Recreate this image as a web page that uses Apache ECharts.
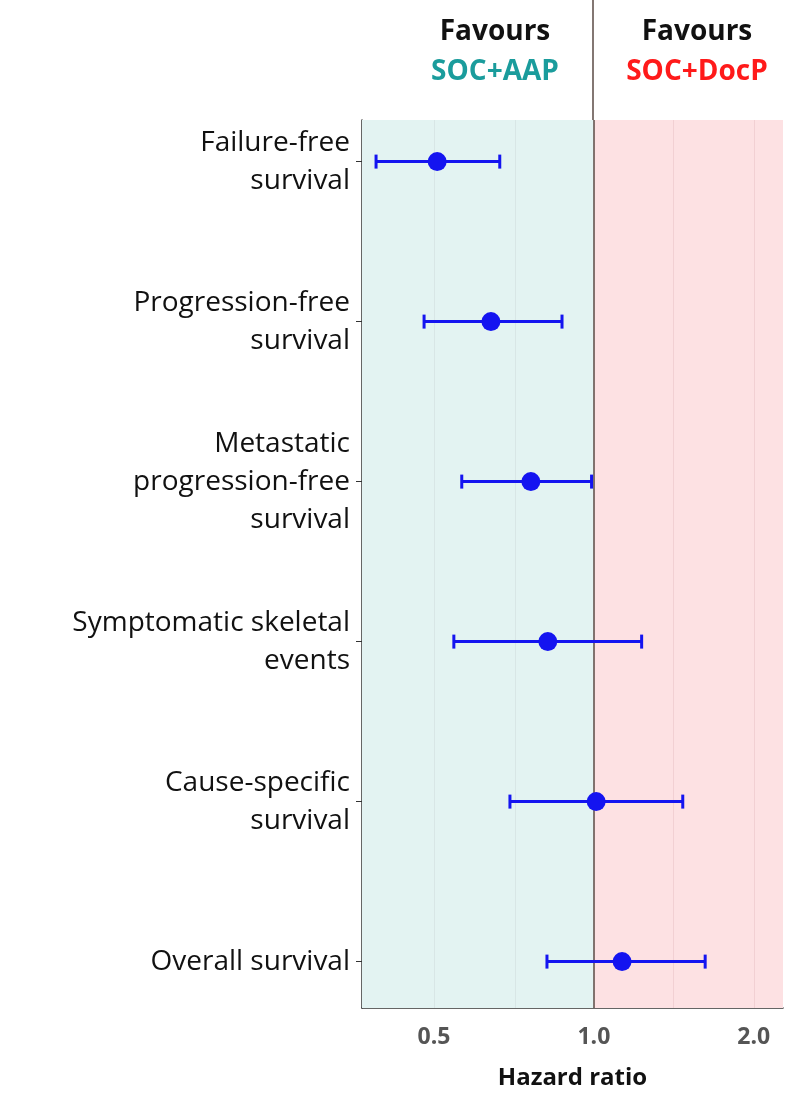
<!DOCTYPE html>
<html><head><meta charset="utf-8">
<script src="https://cdn.jsdelivr.net/npm/echarts@6/dist/echarts.min.js"></script>
<style>html,body{margin:0;background:#fff}#c{width:800px;height:1104px}</style>
</head><body><div id="c"></div>
<script>
var outcomes = ['Failure-free\nsurvival', 'Progression-free\nsurvival', 'Metastatic\nprogression-free\nsurvival', 'Symptomatic skeletal\nevents', 'Cause-specific\nsurvival', 'Overall survival'];
var hr = [0.507, 0.640, 0.761, 0.819, 1.01, 1.13];
var lower = [0.389, 0.479, 0.564, 0.545, 0.695, 0.816];
var upper = [0.665, 0.871, 0.99, 1.23, 1.47, 1.62];
var xTicks = [0.5, 1, 2];
var xMin = 0.366, xMax = 2.27;

var chart = echarts.init(document.getElementById('c'));
var pts = hr.map(function (v, i) { return [v, i]; });
var bars = hr.map(function (v, i) { return [lower[i], upper[i], i]; });
chart.setOption({
  animation: false,
  grid: { left: 362, right: 17, top: 120, bottom: 96 },
  xAxis: {
    type: 'log', logBase: 2, min: xMin, max: xMax,
    name: 'Hazard ratio', nameLocation: 'middle', nameGap: 58,
    nameTextStyle: { fontSize: 24, fontWeight: 'bold', color: '#111', fontFamily: 'Open Sans' },
    axisLine: { show: true, onZero: false, lineStyle: { color: '#333', width: 1.5 } },
    axisTick: { show: false },
    axisLabel: { customValues: xTicks, fontSize: 23, fontWeight: 'bold', color: '#555', margin: 18, fontFamily: 'Open Sans',
      formatter: function (v) { return Number(v).toFixed(1); } },
    splitLine: { show: false }
  },
  yAxis: {
    type: 'value', inverse: true, min: -0.26, max: 5.29,
    axisLine: { show: true, lineStyle: { color: '#333', width: 1.5 } },
    axisTick: { show: true, customValues: [0, 1, 2, 3, 4, 5], length: 6, lineStyle: { color: '#333' } },
    axisLabel: { customValues: [0, 1, 2, 3, 4, 5], fontSize: 28, color: '#111', lineHeight: 38, margin: 12, fontFamily: 'Open Sans',
      formatter: function (v) { return outcomes[Math.round(v)]; } },
    splitLine: { show: false }
  },
  series: [
    {
      type: 'line', data: [], silent: true, z: 0,
      markArea: { silent: true, data: [
        [{ xAxis: xMin, itemStyle: { color: '#e3f3f2' } }, { xAxis: 1 }],
        [{ xAxis: 1, itemStyle: { color: '#fde1e3' } }, { xAxis: xMax }]
      ] },
      markLine: { silent: true, symbol: 'none', label: { show: false }, data: [
        { xAxis: 0.5, lineStyle: { color: '#d8e6e6', width: 1, type: 'solid' } },
        { xAxis: 0.707, lineStyle: { color: '#d8e6e6', width: 1, type: 'solid' } },
        { xAxis: 1.414, lineStyle: { color: '#f2d0d3', width: 1, type: 'solid' } },
        { xAxis: 2, lineStyle: { color: '#f2d0d3', width: 1, type: 'solid' } },
        { xAxis: 1, lineStyle: { color: '#5a4a44', width: 1.5, type: 'solid' } }
      ] }
    },
    {
      type: 'custom', data: bars, z: 5,
      renderItem: function (params, api) {
        var a = api.coord([api.value(0), api.value(2)]);
        var b = api.coord([api.value(1), api.value(2)]);
        var st = { stroke: '#1414f0', lineWidth: 3 };
        return { type: 'group', children: [
          { type: 'line', shape: { x1: a[0], y1: a[1], x2: b[0], y2: b[1] }, style: st },
          { type: 'line', shape: { x1: a[0], y1: a[1] - 7, x2: a[0], y2: a[1] + 7 }, style: st },
          { type: 'line', shape: { x1: b[0], y1: b[1] - 7, x2: b[0], y2: b[1] + 7 }, style: st }
        ] };
      }
    },
    { type: 'scatter', data: pts, symbolSize: 19, z: 6, itemStyle: { color: '#1414f0', opacity: 1 } }
  ],
  graphic: [
    { type: 'line', shape: { x1: 593, y1: 0, x2: 593, y2: 120 }, style: { stroke: '#5a4a44', lineWidth: 1.5 } },
    { type: 'text', x: 495, y: 18, style: { text: 'Favours', font: 'bold 28px "Open Sans"', fill: '#111', textAlign: 'center' } },
    { type: 'text', x: 495, y: 58, style: { text: 'SOC+AAP', font: 'bold 28px "Open Sans"', fill: '#1a9c9c', textAlign: 'center' } },
    { type: 'text', x: 697, y: 18, style: { text: 'Favours', font: 'bold 28px "Open Sans"', fill: '#111', textAlign: 'center' } },
    { type: 'text', x: 697, y: 58, style: { text: 'SOC+DocP', font: 'bold 28px "Open Sans"', fill: '#ff1a1a', textAlign: 'center' } }
  ]
});
</script></body></html>
